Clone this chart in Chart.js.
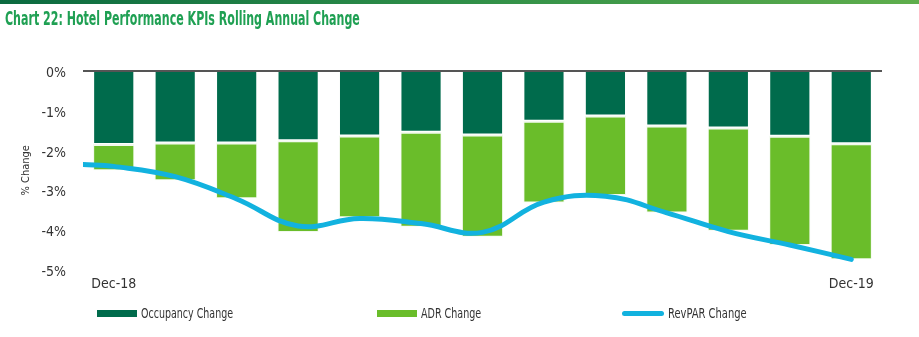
<!DOCTYPE html>
<html>
<head>
<meta charset="utf-8">
<script src="https://cdn.jsdelivr.net/npm/chart.js@4.4.1/dist/chart.umd.min.js"></script>
<style>
  html, body { margin: 0; padding: 0; background: #fff; }
  #wrap { position: relative; width: 919px; height: 337px; overflow: hidden; }
  #topbar { position: absolute; left: 0; top: 0; width: 919px; height: 4px;
            background: linear-gradient(to right, #0b6a40, #2f8f48 50%, #5fae4c); }
  #title { position: absolute; left: 5px; top: 8px; font-family: 'DejaVu Sans Condensed', 'Liberation Sans Narrow', sans-serif;
           font-weight: bold; font-size: 19px; line-height: 20px; color: #1fa053; white-space: nowrap; transform-origin: 0 0; }
  canvas { position: absolute; left: 0; top: 0; }
  .leg { position: absolute; top: 304px; height: 18px; display: flex; align-items: center;
         font-family: 'DejaVu Sans Condensed', sans-serif; font-size: 14px; color: #333; white-space: nowrap; }
  .leg .sw { width: 40px; height: 7px; margin-right: 4px; flex: none; }
  .leg .ln { width: 42px; height: 5px; border-radius: 3px; margin-right: 4px; flex: none; }
  .leg .tx { display: inline-block; transform-origin: 0 50%; }
</style>
</head>
<body>
<div id="wrap">
  <canvas id="c" width="919" height="337"></canvas>
  <div id="topbar"></div>
  <div id="title"></div>
  <div id="legend"></div>
</div>
<script>
// ---- data ----
const chartTitle = 'Chart 22: Hotel Performance KPIs Rolling Annual Change';
const categories = ['Dec-18','Jan-19','Feb-19','Mar-19','Apr-19','May-19','Jun-19','Jul-19','Aug-19','Sep-19','Oct-19','Nov-19','Dec-19'];
const occupancyChange = [-1.84, -1.80, -1.80, -1.74, -1.62, -1.53, -1.60, -1.25, -1.12, -1.37, -1.42, -1.63, -1.82];
const adrChange       = [-0.66, -0.95, -1.40, -2.31, -2.06, -2.39, -2.57, -2.06, -2.00, -2.19, -2.60, -2.75, -2.92];
const revparChange    = [-2.40, -2.66, -3.22, -3.90, -3.71, -3.84, -4.06, -3.30, -3.15, -3.57, -4.04, -4.38, -4.74];
const revparLeadIn    = -2.35;   // value where the line meets the left edge of the plot
const yTicks          = [0, -1, -2, -3, -4, -5];
const seriesNames     = ['Occupancy Change', 'ADR Change', 'RevPAR Change'];

// ---- styles ----
const C_OCC = '#006b4c', C_ADR = '#6abd2a', C_REV = '#12b2df';
const FONT = "'DejaVu Sans Condensed', 'Liberation Sans Narrow', sans-serif";
Chart.defaults.font.family = FONT;
Chart.defaults.color = '#333';

const titleEl = document.getElementById('title');
titleEl.textContent = chartTitle;
titleEl.style.transform = 'scaleX(' + (355 / titleEl.offsetWidth) + ')';

const idx = categories.map((c, i) => i);
const toXY = arr => arr.map((v, i) => ({x: idx[i], y: v}));
const linePoints = [{x: -0.5, y: revparLeadIn}].concat(toXY(revparChange));

new Chart(document.getElementById('c'), {
  type: 'bar',
  data: {
    datasets: [
      { label: seriesNames[0], data: toXY(occupancyChange), backgroundColor: C_OCC, stack: 'kpi',
        borderColor: 'rgba(255,255,255,0.55)', borderWidth: 1, borderSkipped: 'start',
        barPercentage: 0.67, categoryPercentage: 1, order: 1 },
      { label: seriesNames[1], data: toXY(adrChange), backgroundColor: C_ADR, stack: 'kpi',
        borderColor: 'rgba(240,248,235,0.85)', borderWidth: {top: 2, left: 1, right: 1, bottom: 1}, borderSkipped: false,
        barPercentage: 0.67, categoryPercentage: 1, order: 1 },
      { type: 'line', label: seriesNames[2], data: linePoints,
        borderColor: C_REV, backgroundColor: C_REV, borderWidth: 5, pointRadius: 0,
        tension: 0.4, borderCapStyle: 'round', order: 0 }
    ]
  },
  options: {
    responsive: false, animation: false, devicePixelRatio: 1,
    layout: { padding: { left: 16, right: 37, top: 71, bottom: 37.5 } },
    plugins: {
      legend: { display: false },
      tooltip: { enabled: false },
      title: { display: false }
    },
    scales: {
      x: { type: 'linear', stacked: true, offset: false, min: -0.5, max: categories.length - 0.5,
           grid: { display: false, drawTicks: false }, border: { display: false },
           afterBuildTicks: s => { s.ticks = idx.map(v => ({value: v})); },
           ticks: { autoSkip: false, maxRotation: 0, padding: 6.5, font: { size: 14 }, color: '#333',
                    callback: (v) => (v === 0 || v === categories.length - 1) ? categories[v] : '' } },
      y: { stacked: true, min: Math.min(...yTicks), max: Math.max(...yTicks),
           afterFit: s => { s.width = 67; },
           afterBuildTicks: s => { s.ticks = yTicks.map(v => ({value: v})); },
           border: { display: false },
           grid: { drawTicks: false, lineWidth: 2,
                   color: ctx => (ctx.tick && ctx.tick.value === 0) ? '#555' : 'rgba(0,0,0,0)' },
           ticks: { padding: 17, labelOffset: 2.5, font: { size: 14 }, color: '#333', callback: v => v + '%' },
           title: { display: true, text: '% Change', font: { size: 11 }, color: '#333', padding: { top: 4, bottom: 4 } } }
    }
  }
});

// ---- legend (HTML) ----
const legendDefs = [
  { left: 97,  name: seriesNames[0], color: C_OCC, cls: 'sw', textWidth: 92 },
  { left: 377, name: seriesNames[1], color: C_ADR, cls: 'sw', textWidth: 60 },
  { left: 622, name: seriesNames[2], color: C_REV, cls: 'ln', textWidth: 79 }
];
const lg = document.getElementById('legend');
legendDefs.forEach(d => {
  const item = document.createElement('div');
  item.className = 'leg';
  item.style.left = d.left + 'px';
  const sw = document.createElement('span');
  sw.className = d.cls;
  sw.style.background = d.color;
  const t = document.createElement('span');
  t.className = 'tx';
  t.textContent = d.name;
  item.appendChild(sw); item.appendChild(t);
  lg.appendChild(item);
  t.style.transform = 'scaleX(' + (d.textWidth / t.offsetWidth) + ')';
});
</script>
</body>
</html>
